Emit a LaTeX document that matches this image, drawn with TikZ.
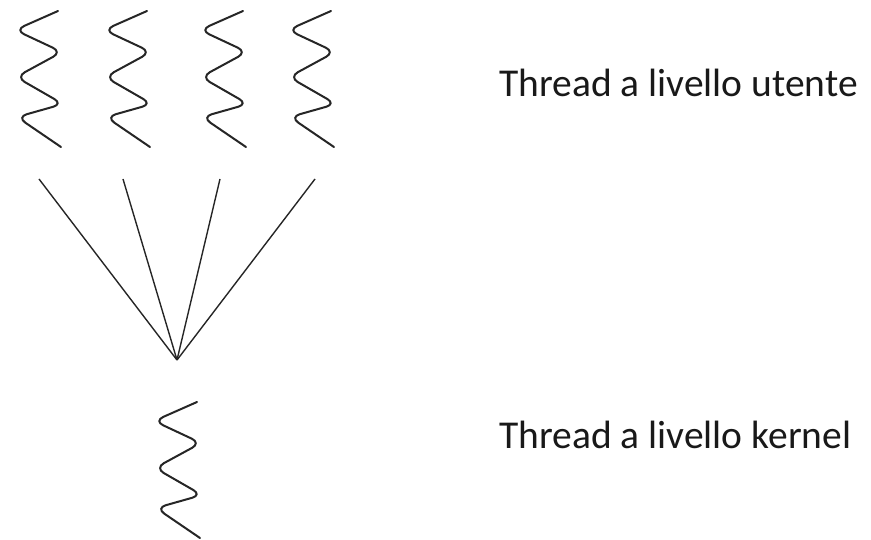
\documentclass[tikz,border=0pt]{standalone}
\usepackage{fontspec}
\setmainfont{Carlito}
\begin{document}
\begin{tikzpicture}[x=1pt,y=-1pt,
  wave/.style={line width=2pt, rounded corners=10pt, line cap=round, black!85},
  link/.style={line width=1.4pt, black!85},
  label/.style={anchor=base west, inner sep=0pt, font=\fontsize{39.5}{42}\selectfont, text=black!90},
  pics/squiggle/.style={code={
    \draw[wave] (0,0) -- (-43,19) -- (4,41) -- (-42,66) -- (5,93) -- (-41,106) -- (3,136);
  }}]
\useasboundingbox (0,0) rectangle (871,540);
\pic at (58,11) {squiggle};
\pic at (147,11) {squiggle};
\pic at (243,11) {squiggle};
\pic at (331,11) {squiggle};
\pic at (197,402) {squiggle};
\coordinate (u1) at (39,179);
\coordinate (u2) at (123,179);
\coordinate (u3) at (220,179);
\coordinate (u4) at (315,179);
\coordinate (k) at (177,360);
\foreach \u in {u1,u2,u3,u4} \draw[link] (\u) -- (k);
\node[label] (ut) at (499,97) {Thread a livello utente};
\node[label] (kt) at (499,448) {Thread a livello kernel};
\end{tikzpicture}
\end{document}
